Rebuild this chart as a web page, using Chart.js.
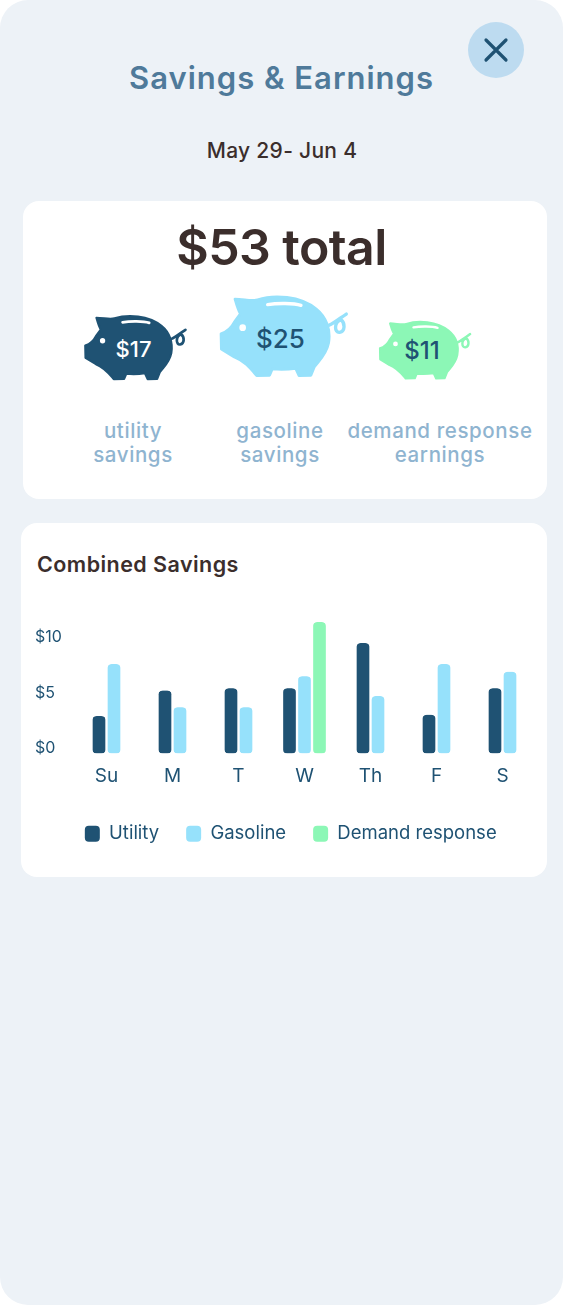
<!DOCTYPE html>
<html>
<head>
<meta charset="utf-8">
<title>Savings &amp; Earnings</title>
<script src="https://cdn.jsdelivr.net/npm/chart.js@4"></script>
<style>
    html, body { margin: 0; padding: 0; background: #fff; }
    body { width: 563px; height: 1305px; overflow: hidden; font-family: Inter, "Open Sans", sans-serif; }
    .abs { position: absolute; }
    .panel { position: absolute; left: 0; top: 0; width: 563px; height: 1305px; background: #edf2f7; border-radius: 28px; }
    .card { position: absolute; background: #fff; border-radius: 16px; }
    .center { position: absolute; transform: translate(-50%, -50%); white-space: nowrap; text-align: center; }
    .pigLabel { font-size: 20.5px; line-height: 24px; font-weight: 500; color: #8fb4d0; letter-spacing: 0.6px; }
    .pigValue { font-weight: 500; }
    #chartWrap { position: absolute; left: 21px; top: 523px; width: 526px; height: 354px; }
</style>
</head>
<body>
<div class="panel"></div>

<svg class="abs" style="left:468px;top:22px" width="56" height="56" viewBox="0 0 56 56">
    <circle cx="28" cy="28" r="28" fill="#bddbf0"/>
    <path d="M18 18 L38 38 M38 18 L18 38" stroke="#1f5273" stroke-width="3.2" stroke-linecap="round"/>
</svg>

<div class="center" style="left:281.5px;top:77px;font-size:31px;font-weight:600;color:#4f7a9a;letter-spacing:1px">Savings &amp; Earnings</div>
<div class="center" style="left:282px;top:150px;font-size:21px;font-weight:500;color:#3b2e2c;letter-spacing:0.3px">May 29- Jun 4</div>

<div class="card" style="left:23px;top:201px;width:524px;height:298px"></div>
<div class="center" style="left:281.5px;top:247px;font-size:50px;font-weight:600;color:#3b2e2c;letter-spacing:-0.6px">$53 total</div>

<svg width="0" height="0" style="position:absolute">
    <symbol id="pig" viewBox="470 40 400 260">
        <path fill="currentColor" stroke="currentColor" stroke-width="8" stroke-linejoin="round" d="M524 58 C550 58 575 66 592 60 C640 44 720 48 768 88 C798 112 812 150 805 190 C798 225 778 240 762 262 L752 287 L716 288 L706 266 C680 270 660 270 636 268 L628 287 L589 288 C572 268 555 245 522 232 L483 208 L482 162 C497 157 512 147 522 127 L540 102 C532 88 528 72 524 58 Z"/>
        <path fill="none" stroke="currentColor" stroke-width="10" stroke-linecap="round" d="M806 137 C822 130 840 115 858 103 M842 120 C820 128 822 160 838 158 C855 155 855 130 842 120"/>
        <circle cx="547" cy="144" r="10" fill="#fff"/>
        <path fill="none" stroke="#fff" stroke-width="10" stroke-linecap="round" d="M622 75 C650 70 700 70 722 77"/>
    </symbol>
</svg>
<svg class="abs" style="left:82px;top:312.7px;color:#1f5273" width="106.7" height="69.3"><use href="#pig"/></svg>
<svg class="abs" style="left:216.7px;top:293.3px;color:#96e1fb" width="133.3" height="86.7"><use href="#pig"/></svg>
<svg class="abs" style="left:377px;top:318.8px;color:#8cf7b6" width="96" height="62.4"><use href="#pig"/></svg>
<div class="center pigValue" style="left:133.5px;top:349px;font-size:22px;color:#fff">$17</div>
<div class="center pigValue" style="left:280.5px;top:338px;font-size:26px;color:#1f5273">$25</div>
<div class="center pigValue" style="left:422px;top:350px;font-size:24px;color:#1f5273">$11</div>

<div class="center pigLabel" style="left:133px;top:443px">utility<br>savings</div>
<div class="center pigLabel" style="left:280px;top:443px">gasoline<br>savings</div>
<div class="center pigLabel" style="left:440px;top:443px">demand response<br>earnings</div>

<div class="card" style="left:21px;top:523px;width:526px;height:354px"></div>
<div class="abs" style="left:37px;top:550.5px;font-size:21.5px;line-height:26px;font-weight:600;color:#3b2e2c;letter-spacing:0.45px">Combined Savings</div>
<div id="chartWrap"><canvas id="chart"></canvas></div>

<script>
const categories = ["Su", "M", "T", "W", "Th", "F", "S"];
const utilityValues = [3.4, 5.7, 5.9, 5.9, 10, 3.5, 5.9];
const gasolineValues = [8.1, 4.2, 4.2, 7, 5.2, 8.1, 7.4];
const demandValues = [null, null, null, 11.9, null, null, null];
const yTicks = [0, 5, 10];

const DARK = "#1f5273";
const LIGHT = "#96e1fb";
const GREEN = "#8cf7b6";

function barSeries(label, values, color) {
    return {
        label,
        data: values,
        backgroundColor: color,
        borderColor: "rgba(0,0,0,0)",
        // Side borders are see-through, that is what leaves the gap between bars.
        borderWidth: { left: 1.5, right: 1.5, top: 0, bottom: 0 },
        borderSkipped: false,
        borderRadius: 5.5,
        barThickness: 15,
        skipNull: true,
    };
}

new Chart(document.getElementById("chart").getContext("2d"), {
    type: "bar",
    data: {
        labels: categories,
        datasets: [
            barSeries("Utility", utilityValues, DARK),
            barSeries("Gasoline", gasolineValues, LIGHT),
            barSeries("Demand response", demandValues, GREEN),
        ],
    },
    options: {
        responsive: true,
        maintainAspectRatio: false,
        animation: false,
        // Left padding is larger than the tick labels need: it centres the legend further right.
        layout: { padding: { left: 25, right: 11.5, top: 98, bottom: 24 } },
        plugins: {
            tooltip: { enabled: false },
            legend: {
                position: "bottom",
                onClick: null,
                labels: {
                    boxWidth: 15,
                    boxHeight: 16,
                    padding: 27,
                    color: DARK,
                    font: { family: "Inter", size: 18.5 },
                    generateLabels: (chart) => chart.data.datasets.map((d, i) => ({
                        text: d.label,
                        fillStyle: d.backgroundColor,
                        strokeStyle: d.backgroundColor,
                        lineWidth: 0,
                        borderRadius: 4,
                        fontColor: DARK,
                        datasetIndex: i,
                    })),
                    useBorderRadius: true,
                },
            },
        },
        scales: {
            x: {
                grid: { display: false },
                border: { display: false },
                ticks: { color: DARK, padding: 3, font: { family: "Inter", size: 19 } },
                afterFit: (scale) => { scale.height = 44; },
            },
            y: {
                min: 0,
                max: 12,
                grid: { display: false },
                border: { display: false },
                afterBuildTicks: (scale) => { scale.ticks = yTicks.map((v) => ({ value: v })); },
                ticks: {
                    color: DARK,
                    // Mirrored with negative padding: left-aligned labels 38.5px left of the plot.
                    mirror: true,
                    padding: -38.5,
                    // Labels sit 6px above their value: a blank second line lifts them.
                    font: { family: "Inter", size: 16, lineHeight: "11px" },
                    callback: (v) => ["$" + v, ""],
                },
                afterFit: (scale) => { scale.width = 27.5; },
            },
        },
    },
});
</script>
</body>
</html>
